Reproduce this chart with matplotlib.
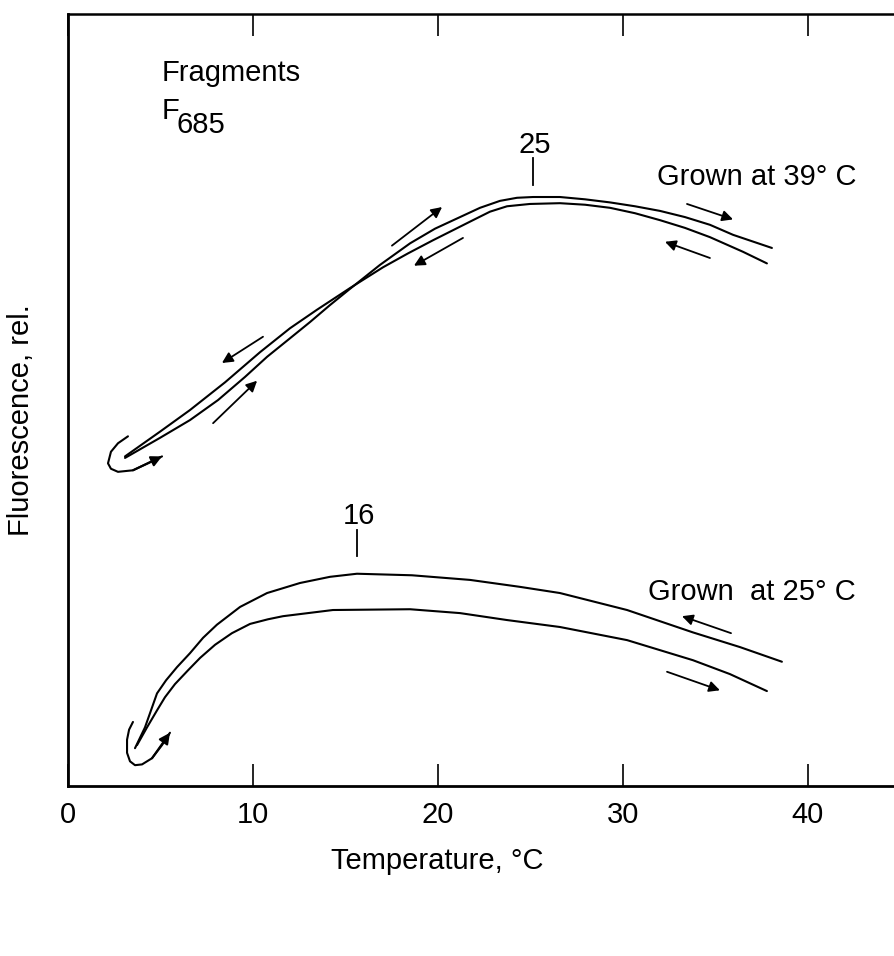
import matplotlib
matplotlib.use("Agg")
import matplotlib.pyplot as plt

plt.rcParams["font.family"] = ["Liberation Sans", "DejaVu Sans"]

# upper curve, grown at 39 C (heating and cooling branches)
t39_heat = [3.08, 4.97, 6.59, 8.11, 9.57, 10.76, 12.0, 13.08, 14.16, 15.24,
            16.86, 18.49, 19.84, 21.19, 22.27, 23.35, 24.27, 25.14, 26.59, 27.95,
            29.30, 30.65, 32.0, 33.35, 34.70, 35.95, 38.05]
f39_heat = [42.5, 45.1, 47.4, 50.0, 53.0, 55.6, 58.0, 60.1, 62.3, 64.4,
            67.5, 70.3, 72.2, 73.7, 74.9, 75.8, 76.2, 76.3, 76.3, 76.0,
            75.6, 75.1, 74.5, 73.7, 72.7, 71.4, 69.7]
t39_cool = [3.08, 4.97, 6.59, 8.49, 10.38, 12.0, 13.46, 15.24, 17.03, 18.38,
            19.73, 20.81, 21.89, 22.81, 23.73, 24.97, 26.59, 27.95, 29.30, 30.65,
            32.0, 33.35, 34.70, 36.49, 37.78]
f39_cool = [42.7, 45.9, 48.7, 52.3, 56.2, 59.3, 61.7, 64.5, 67.2, 69.0,
            70.7, 72.0, 73.3, 74.4, 75.1, 75.4, 75.5, 75.3, 74.9, 74.2,
            73.3, 72.3, 71.1, 69.2, 67.7]
t39_loop = [3.24, 2.70, 2.32, 2.16, 2.32, 2.70, 3.51, 4.32, 5.08]
f39_loop = [45.3, 44.4, 43.3, 41.8, 41.1, 40.7, 40.9, 41.8, 42.7]

# lower curve, grown at 25 C
t25_cool = [3.62, 4.16, 4.81, 5.30, 5.89, 6.59, 7.30, 8.05, 9.30, 10.76,
            12.54, 14.16, 15.62, 18.59, 21.73, 24.43, 26.59, 30.22, 33.78, 36.32,
            38.59]
f25_cool = [4.9, 7.6, 12.0, 13.7, 15.4, 17.2, 19.2, 20.9, 23.2, 25.0,
            26.3, 27.1, 27.5, 27.3, 26.7, 25.8, 25.0, 22.8, 19.9, 18.0,
            16.1]
t25_heat = [3.73, 4.27, 4.81, 5.24, 5.78, 6.49, 7.14, 7.95, 8.86, 9.84,
            10.81, 11.62, 14.32, 18.49, 21.19, 23.73, 26.59, 30.22, 33.78, 35.78,
            37.78]
f25_heat = [5.3, 7.6, 9.8, 11.5, 13.2, 15.0, 16.6, 18.3, 19.8, 21.0,
            21.6, 22.0, 22.8, 22.9, 22.4, 21.5, 20.6, 18.9, 16.3, 14.5,
            12.3]
t25_loop = [3.51, 3.30, 3.19, 3.19, 3.35, 3.62, 4.0, 4.54, 5.08, 5.51]
f25_loop = [8.3, 7.3, 6.0, 4.3, 3.2, 2.7, 2.8, 3.6, 5.3, 6.9]

# direction arrows: (tail_t, tail_f, head_t, head_f)
arrows = [
    (10.54, 58.2, 8.32, 54.8),
    (7.84, 47.0, 10.22, 52.5),
    (17.51, 70.0, 20.22, 75.0),
    (21.35, 71.0, 18.70, 67.4),
    (33.46, 75.4, 35.95, 73.4),
    (34.70, 68.4, 32.27, 70.5),
    (35.84, 19.8, 33.19, 22.0),
    (32.38, 14.8, 35.24, 12.4),
]

# maxima marks
peak_t = [25.14, 15.62]
peak_lbl = ["25", "16"]
peak_top = [81.3, 33.2]
peak_bot = [77.8, 29.8]

x_ticks = [0, 10, 20, 30, 40]

fig = plt.figure(figsize=(8.94, 9.56), dpi=100)
ax = fig.add_axes([0.0761, 0.1778, 0.9239, 0.8075])

lw = 1.5
for t, f in [(t39_heat, f39_heat), (t39_cool, f39_cool), (t39_loop, f39_loop),
             (t25_cool, f25_cool), (t25_heat, f25_heat), (t25_loop, f25_loop)]:
    ax.plot(t, f, color="black", lw=lw, solid_joinstyle="round", solid_capstyle="round")

# arrowheads at the ends of the loops
for t, f in [(t39_loop, f39_loop), (t25_loop, f25_loop)]:
    ax.annotate("", xy=(t[-1], f[-1]), xytext=(t[-3], f[-3]),
                arrowprops=dict(arrowstyle="-|>", color="black", lw=lw,
                                mutation_scale=16, shrinkA=0, shrinkB=0))

for a in arrows:
    ax.annotate("", xy=(a[2], a[3]), xytext=(a[0], a[1]),
                arrowprops=dict(arrowstyle="-|>", color="black", lw=1.3,
                                mutation_scale=16, shrinkA=0, shrinkB=0))

fs = 21
for i in range(len(peak_t)):
    ax.plot([peak_t[i], peak_t[i]], [peak_bot[i], peak_top[i]], color="black", lw=1.3)
    ax.text(peak_t[i] + 0.1, peak_top[i] + 1.8, peak_lbl[i], ha="center", va="center",
            fontsize=fs)

ax.text(31.84, 78.9, "Grown at 39° C", fontsize=fs, va="center", ha="left")
ax.text(31.35, 25.1, "Grown  at 25° C", fontsize=fs, va="center", ha="left")
ax.text(5.08, 92.4, "Fragments", fontsize=fs, va="center", ha="left")
ax.text(5.08, 87.4, "F", fontsize=fs, va="center", ha="left")
ax.text(5.85, 85.6, "685", fontsize=fs, va="center", ha="left")

ax.set_xlim(0, 44.65)
ax.set_ylim(0, 100)
ax.set_xticks(x_ticks)
ax.set_yticks([])
ax.tick_params(axis="x", direction="in", top=True, length=16, width=1.2,
               labelsize=fs, pad=11)

ax.spines["right"].set_visible(False)
for s in ["left", "bottom"]:
    ax.spines[s].set_linewidth(2.0)
ax.spines["top"].set_linewidth(1.8)

ax.set_xlabel("Temperature, °C", fontsize=fs)
ax.xaxis.set_label_coords(0.447, -0.079)
ax.set_ylabel("Fluorescence, rel.", fontsize=fs)
ax.yaxis.set_label_coords(-0.040, 0.474)

plt.savefig("out.png", dpi=100)
plt.close()
